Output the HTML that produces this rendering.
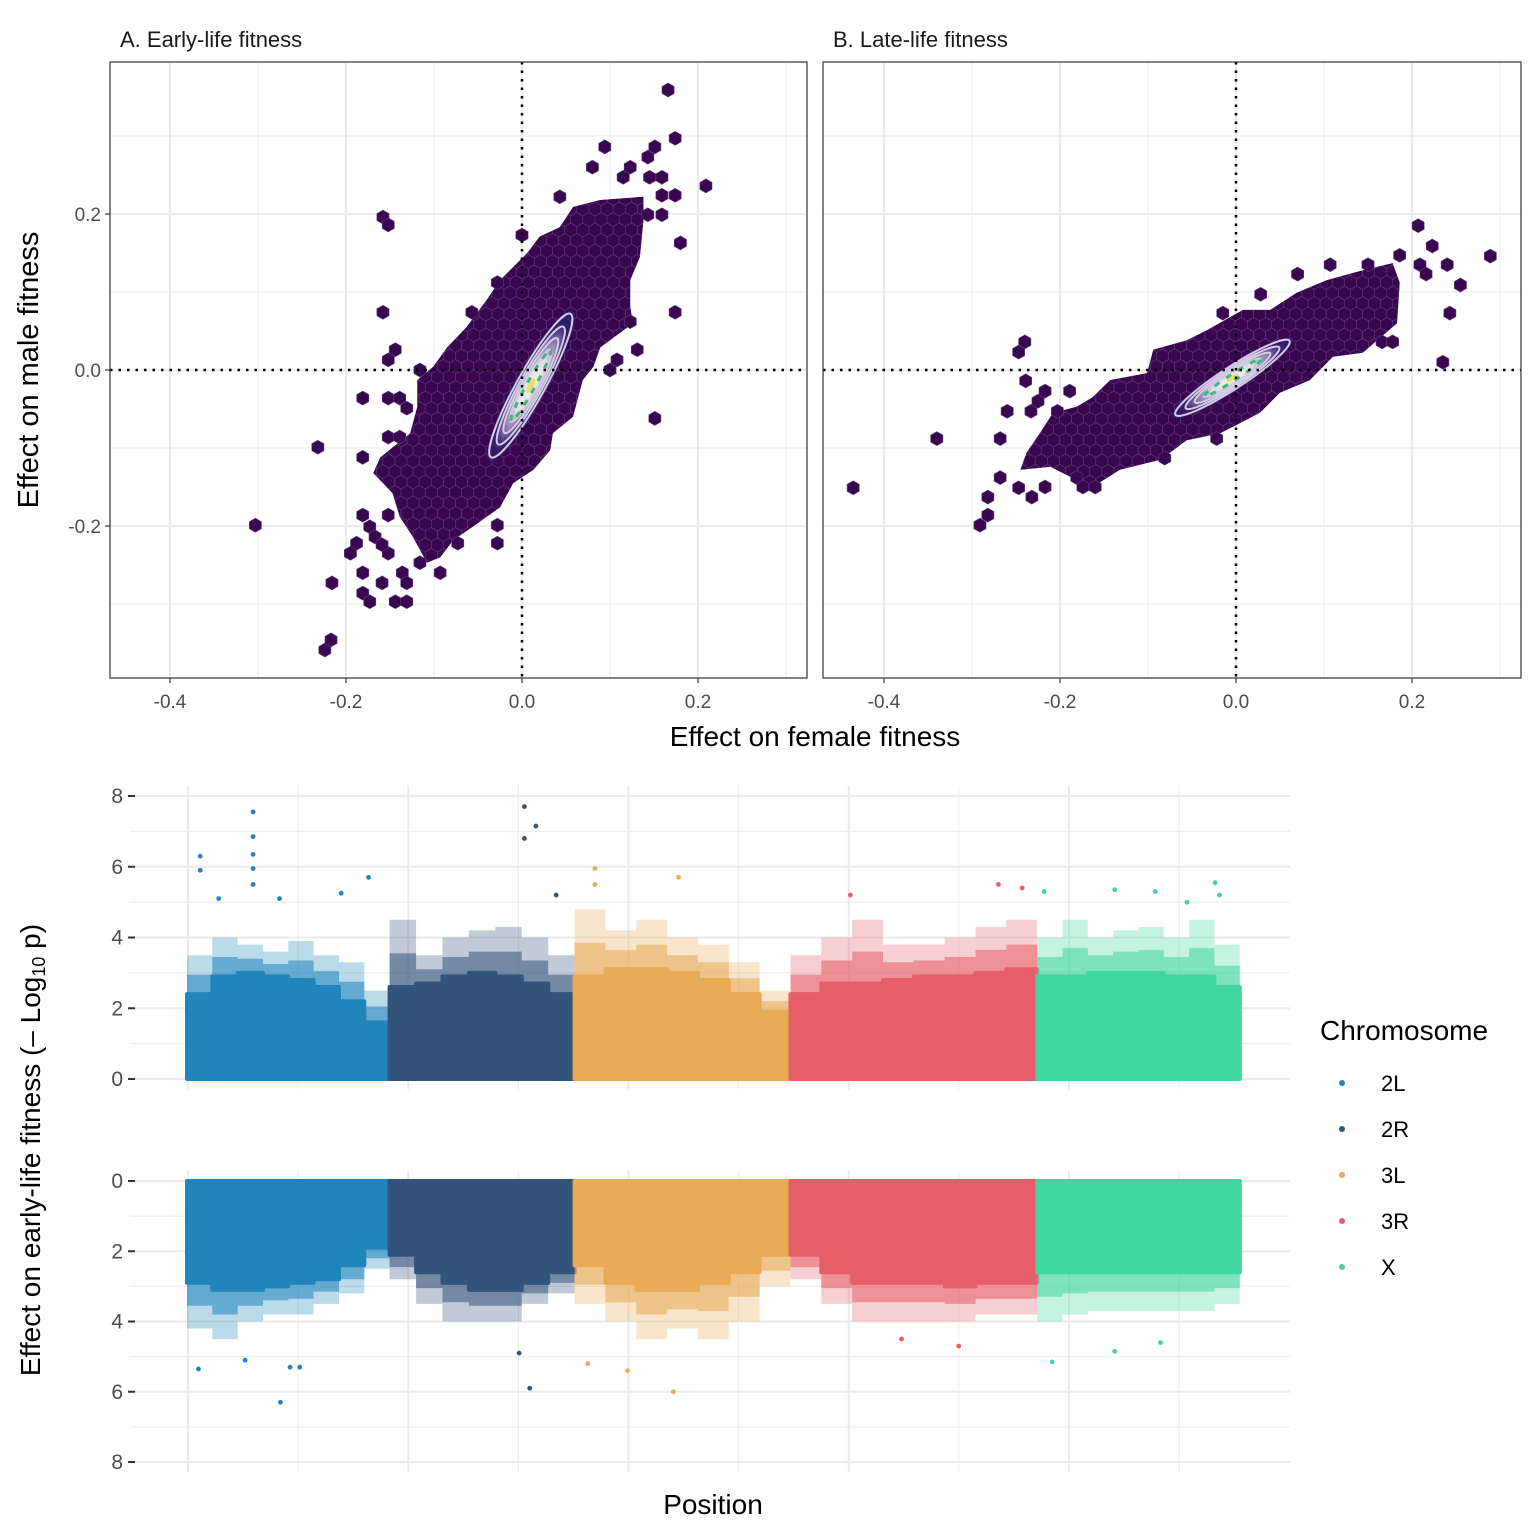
<!DOCTYPE html>
<html><head><meta charset="utf-8"><style>
html,body{margin:0;padding:0;background:#fff;}
svg{display:block;font-family:"Liberation Sans",sans-serif;}
</style></head><body>
<svg id="chart" width="1536" height="1536" viewBox="0 0 1536 1536" xmlns="http://www.w3.org/2000/svg">
<defs>
<radialGradient id="glow" cx="50%" cy="50%" r="50%">
<stop offset="0%" stop-color="#f4f8e0" stop-opacity="1"/>
<stop offset="40%" stop-color="#ffffff" stop-opacity="0.85"/>
<stop offset="75%" stop-color="#b8b0d8" stop-opacity="0.5"/>
<stop offset="100%" stop-color="#3a3a88" stop-opacity="0"/>
</radialGradient>
</defs>
<g id="root"></g>
</svg>
<script>
// ---------- Data: hexbin panels ----------
const xTicks = [-0.4, -0.2, 0.0, 0.2];
const yTicks = [-0.2, 0.0, 0.2];
const envA_x = [.058,.089,.138,.138,.134,.123,.123,.126,.089,.081,.069,.058,.035,.032,.013,-.010,-.025,-.056,-.078,-.093,-.108,-.124,-.139,-.147,-.169,-.161,-.127,-.119,-.119,-.101,-.085,-.063,-.040,-.025,.006,.020,.043];
const envA_y = [.209,.218,.222,.192,.145,.115,.081,.060,.029,.004,-.013,-.060,-.081,-.103,-.128,-.145,-.176,-.201,-.218,-.240,-.247,-.214,-.188,-.158,-.132,-.112,-.081,-.047,-.013,.004,.029,.055,.090,.115,.150,.171,.183];
const outA_x = [-.158,-.152,-.158,-.144,-.152,-.181,-.152,-.139,-.131,-.232,-.181,-.152,-.139,-.181,-.173,-.167,-.188,-.195,-.152,-.159,-.152,-.116,-.093,-.216,-.181,-.159,-.136,-.131,-.181,-.173,-.144,-.131,-.073,-.028,-.028,0,.043,.080,.094,.151,.143,.123,.115,.145,.159,.159,.174,.159,.143,.180,.174,.131,.108,.100,.151,.123,-.028,-.057,-.116,.166,.174,.209,-.303,-.224,-.217];
const outA_y = [.196,.186,.074,.026,.013,-.036,-.036,-.036,-.049,-.099,-.112,-.086,-.086,-.186,-.201,-.214,-.222,-.235,-.235,-.224,-.186,-.247,-.260,-.273,-.260,-.273,-.260,-.273,-.286,-.297,-.297,-.297,-.222,-.199,-.222,.173,.222,.260,.286,.286,.273,.260,.247,.247,.247,.224,.224,.199,.199,.163,.074,.026,.013,0,-.062,.062,.112,.074,0,.359,.297,.236,-.199,-.359,-.346];
const envB_x = [.069,.103,.138,.178,.186,.183,.144,.110,.084,.050,.027,-.018,-.056,-.086,-.132,-.163,-.181,-.211,-.245,-.238,-.223,-.208,-.181,-.163,-.143,-.101,-.094,-.056,-.033,.008,.039];
const envB_y = [.099,.115,.126,.137,.112,.060,.022,.017,-.013,-.029,-.055,-.081,-.090,-.115,-.128,-.150,-.141,-.124,-.128,-.106,-.081,-.055,-.047,-.035,-.013,-.004,.026,.038,.051,.077,.077];
const outB_x = [-.240,-.247,-.239,-.217,-.225,-.189,-.260,-.233,-.203,-.268,-.268,-.282,-.282,-.247,-.232,-.217,-.181,-.174,-.160,-.081,-.022,-.015,.028,.070,.107,.150,.186,.166,.178,.209,.216,.223,.207,.240,.255,.289,.243,.235,-.340,-.435,-.291];
const outB_y = [.036,.023,-.014,-.027,-.040,-.027,-.053,-.053,-.053,-.088,-.138,-.163,-.186,-.151,-.163,-.150,-.138,-.150,-.150,-.113,-.088,.073,.097,.123,.135,.135,.147,.036,.036,.135,.123,.159,.185,.135,.109,.146,.073,.010,-.088,-.151,-.199];
const contA = [0.010, -0.020];
const contB = [-0.004, -0.010];

// ---------- Data: Manhattan ----------
const chroms = ["2L","2R","3L","3R","X"];
const chromLen = [23, 21, 24.5, 28, 23];
const chromColor = ["#1f85bb","#33547a","#e8aa55","#e65e68","#40d6a0"];
const mTicks = [0,2,4,6,8];
const topDense = [[2.4,2.9,3.0,2.9,2.8,2.6,2.2,1.6],[2.6,2.7,2.9,3.0,2.9,2.7,2.4],[2.9,3.1,3.1,3.0,2.8,2.4,1.9],[2.4,2.7,2.7,2.8,2.9,2.9,3.0,3.1],[2.9,2.9,3.0,3.0,3.0,2.9,2.9,2.6]];
const topSparse = [[3.5,4,3.8,3.6,3.9,3.5,3.3,2.5],[4.5,3.5,4,4.2,4.3,4,3.5],[4.8,4.2,4.5,4,3.8,3.3,2.5],[3.5,4,4.5,3.8,3.8,4,4.3,4.5],[4,4.5,4,4.2,4.3,4,4.5,3.8]];
const botDense = [[2.9,3.1,3.1,3.0,2.9,2.8,2.4,1.9],[2.1,2.6,2.9,3.1,3.1,2.9,2.6],[2.4,2.9,3.1,3.1,2.9,2.6,2.1],[2.1,2.6,2.9,2.9,2.9,3.0,2.9,2.9],[2.6,2.6,2.6,2.6,2.6,2.6,2.6,2.6]];
const botSparse = [[4.2,4.5,4,3.8,3.8,3.5,3.2,2.5],[2.8,3.5,4,4,4,3.5,3.2],[3.5,4,4.5,4.2,4.5,4,3],[2.8,3.5,4,4,4,4,3.8,3.8],[4,3.8,3.7,3.7,3.7,3.7,3.7,3.5]];
const topOutChr = [0,0,0,0,0,0,0,0,0,0,0,1,1,1,1,2,2,2,3,3,3,4,4,4,4,4,4];
const topOutPos = [7.5,7.5,7.5,7.5,7.5,1.5,1.5,3.6,10.5,20.6,17.5,15.3,15.3,16.6,18.9,2.3,11.8,2.3,23.6,26.3,6.8,20.2,20.7,8.8,13.4,0.8,17];
const topOutVal = [7.55,6.85,6.35,5.95,5.5,6.3,5.9,5.1,5.1,5.7,5.25,7.7,6.8,7.15,5.2,5.95,5.7,5.5,5.5,5.4,5.2,5.55,5.2,5.35,5.3,5.3,5.0];
const botOutChr = [0,0,0,0,0,1,1,2,2,2,3,3,4,4,4];
const botOutPos = [1.3,10.6,11.7,12.8,6.6,15.9,14.7,6,11.2,1.5,19.1,12.6,1.7,8.8,14];
const botOutVal = [5.35,6.3,5.3,5.3,5.1,5.9,4.9,5.4,6.0,5.2,4.7,4.5,5.15,4.85,4.6];

// ---------- helpers ----------
const NS = "http://www.w3.org/2000/svg";
const root = document.getElementById("root");
function mk(tag, attrs, parent, text){
  const e = document.createElementNS(NS, tag);
  for (const k in attrs) e.setAttribute(k, attrs[k]);
  if (text !== undefined) e.textContent = text;
  (parent || root).appendChild(e);
  return e;
}
function hexPts(cx, cy, r){
  let p = [];
  for (let i = 0; i < 6; i++){ const a = Math.PI/180*(60*i+30); p.push((cx+r*Math.cos(a)).toFixed(1)+","+(cy+r*Math.sin(a)).toFixed(1)); }
  return p.join(" ");
}

// ---------- hexbin panels ----------
function hexPanel(id, left, right, zeroX, title, envX, envY, outX, outY, cont, contLen, contW, contAng, showY){
  const top = 62, bottom = 678, zeroY = 370;
  const sx = v => zeroX + v*880;
  const sy = v => zeroY - v*780;
  const g = mk("g", {}, root);
  
  
  for (let v = -0.5; v <= 0.45; v += 0.1){
    const x = sx(v); if (x < left || x > right) continue;
    const major = Math.abs(Math.round(v*10) % 2) === 0;
    const l = mk("line", {x1:x, x2:x, y1:top, y2:bottom, stroke:"#ebebeb", "stroke-width": major?2:1}, g);
    
    
  }
  for (let v = -0.4; v <= 0.45; v += 0.1){
    const y = sy(v); if (y < top || y > bottom) continue;
    const major = Math.abs(Math.round(v*10) % 2) === 0;
    const l = mk("line", {x1:left, x2:right, y1:y, y2:y, stroke:"#ebebeb", "stroke-width": major?2:1}, g);
    
    
  }
  const envPts = envX.map((v,i) => sx(v).toFixed(1)+","+sy(envY[i]).toFixed(1)).join(" ");
  const ecId = "env-" + id;
  const ec = mk("clipPath", {id: ecId}, g);
  mk("polygon", {points: envPts}, ec);
  const hg = mk("g", {"clip-path": "url(#"+ecId+")"}, g);
  
  
  mk("polygon", {points: envPts, fill:"#3a0650"}, hg);
  const r = 7, dx = r*Math.sqrt(3), dy = r*1.5;
  let row = 0;
  for (let y = top; y <= bottom; y += dy, row++){
    for (let x = left + (row%2 ? dx/2 : 0); x <= right; x += dx){
      mk("polygon", {points: hexPts(x, y, r), fill:"#3a0650", stroke:"#5e3f80", "stroke-width":0.6}, hg);
    }
  }
  outX.forEach((v,i) => {
    const h = mk("polygon", {points: hexPts(sx(v), sy(outY[i]), r), fill:"#3a0650", stroke:"#5e3f80", "stroke-width":0.6}, g);
    
    
  });
  const cg = mk("g", {transform: "translate("+sx(cont[0])+","+sy(cont[1])+") rotate("+contAng+")"}, g);
  
  
  mk("ellipse", {cx:0, cy:0, rx:contLen*1.05, ry:contW*1.15, fill:"#2c2a78", "fill-opacity":0.55}, cg);
  mk("ellipse", {cx:0, cy:0, rx:contLen*0.9, ry:contW*1.0, fill:"url(#glow)"}, cg);
  [1, 0.82, 0.66, 0.5].forEach((s) => {
    mk("ellipse", {cx:0, cy:0, rx:contLen*s, ry:contW*s, fill:"none", stroke:"#d4cce4", "stroke-width":2}, cg);
  });
  mk("ellipse", {cx:0, cy:0, rx:contLen*0.5, ry:contW*0.3, fill:"none", stroke:"#3cb878", "stroke-width":3, "stroke-dasharray":"6 8"}, cg);
  mk("ellipse", {cx:0, cy:0, rx:contLen*0.1, ry:contW*0.18, fill:"#e8e060"}, cg);
  const zx = mk("line", {x1:sx(0), x2:sx(0), y1:top, y2:bottom, stroke:"#000", "stroke-width":2.5, "stroke-dasharray":"2.5 6"}, g);
  
  
  const zy = mk("line", {x1:left, x2:right, y1:sy(0), y2:sy(0), stroke:"#000", "stroke-width":2.5, "stroke-dasharray":"2.5 6"}, g);
  
  
  const b = mk("rect", {x:left, y:top, width:right-left, height:bottom-top, fill:"none", stroke:"#333", "stroke-width":1.2}, g);
  
  
  xTicks.forEach(v => {
    const x = sx(v);
    mk("line", {x1:x, x2:x, y1:bottom, y2:bottom+5, stroke:"#333", "stroke-width":1.2}, g);
    const t = mk("text", {x:x, y:bottom+30, "text-anchor":"middle", "font-size":19, fill:"#4d4d4d"}, g, v.toFixed(1));
    
    
  });
  if (showY){
    yTicks.forEach(v => {
      const y = sy(v);
      mk("line", {x1:left-5, x2:left, y1:y, y2:y, stroke:"#333", "stroke-width":1.2}, g);
      const t = mk("text", {x:left-9, y:y+7, "text-anchor":"end", "font-size":19, fill:"#4d4d4d"}, g, v.toFixed(1));
      
      
    });
  }
  const tt = mk("text", {x:left+10, y:47, "font-size":22, fill:"#1a1a1a"}, g, title);
  
  
}
hexPanel("panel-a-early-life", 110, 807, 522, "A. Early-life fitness", envA_x, envA_y, outA_x, outA_y, contA, 82, 14, -61, true);
hexPanel("panel-b-late-life", 823, 1521, 1236, "B. Late-life fitness", envB_x, envB_y, outB_x, outB_y, contB, 68, 11, -33, false);

let t1 = mk("text", {x:815, y:746, "text-anchor":"middle", "font-size":28, fill:"#000"}, root, "Effect on female fitness");


let t2 = mk("text", {x:0, y:0, transform:"translate(38,370) rotate(-90)", "text-anchor":"middle", "font-size":29, fill:"#000"}, root, "Effect on male fitness");



// ---------- Manhattan ----------
const mx0 = 187, mpx = 8.81;
const chromStart = [];
{ let acc = 0; chromLen.forEach(l => { chromStart.push(acc); acc += l; }); }
const px = (c, p) => mx0 + (chromStart[c] + p) * mpx;

function manhattan(id, zeroY, unit, dir, dense, sparse, oc, op, ov){
  const g = mk("g", {}, root);
  
  
  const sy = v => zeroY - dir * v * unit;
  const yTop = Math.min(sy(8.3), sy(-0.3)), yBot = Math.max(sy(8.3), sy(-0.3));
  for (let v = 0; v <= 8; v++){
    const l = mk("line", {x1:130, x2:1290, y1:sy(v), y2:sy(v), stroke:"#ebebeb", "stroke-width": v%2===0?2:1}, g);
    
    
  }
  for (let k = 0; k <= 9; k++){
    const x = mx0 + 1 + k*12.5*mpx;
    const l = mk("line", {x1:x, x2:x, y1:yTop, y2:yBot, stroke:"#ebebeb", "stroke-width": k%2===0?2:1}, g);
    
    
  }
  chroms.forEach((c, ci) => {
    const n = dense[ci].length;
    const step = chromLen[ci] / n;
    function env(arr, scale){
      let pts = [px(ci,0).toFixed(1)+","+sy(0)];
      arr.forEach((v,i) => {
        const vv = scale(v, i);
        pts.push(px(ci, i*step).toFixed(1)+","+sy(vv).toFixed(1));
        pts.push(px(ci, (i+1)*step).toFixed(1)+","+sy(vv).toFixed(1));
      });
      pts.push(px(ci,chromLen[ci]).toFixed(1)+","+sy(0));
      return pts.join(" ");
    }
    const sp = mk("polygon", {points: env(sparse[ci], v => v), fill: chromColor[ci], "fill-opacity":0.3}, g);
    
    
    const sp2 = mk("polygon", {points: env(sparse[ci], (v,i) => (v + dense[ci][i]) / 2), fill: chromColor[ci], "fill-opacity":0.55}, g);
    
    
    const dn = mk("polygon", {points: env(dense[ci], v => v), fill: chromColor[ci], "stroke": chromColor[ci], "stroke-width":4, "stroke-linejoin":"round"}, g);
    
    
  });
  oc.forEach((c, i) => {
    const d = mk("circle", {cx: px(c, op[i]), cy: sy(ov[i]), r: 2.4, fill: chromColor[c]}, g);
    
    
  });
  mTicks.forEach(v => {
    mk("line", {x1:128, x2:135, y1:sy(v), y2:sy(v), stroke:"#333", "stroke-width":2}, g);
    const t = mk("text", {x:123, y:sy(v)+7, "text-anchor":"end", "font-size":21, fill:"#4d4d4d"}, g, String(v));
    
    
  });
}
manhattan("manhattan-female", 1079, 35.375, 1, topDense, topSparse, topOutChr, topOutPos, topOutVal);
manhattan("manhattan-male", 1181, 35.125, -1, botDense, botSparse, botOutChr, botOutPos, botOutVal);

let t3 = mk("text", {x:713, y:1514, "text-anchor":"middle", "font-size":28, fill:"#000"}, root, "Position");


let t4 = mk("text", {x:0, y:0, transform:"translate(40,1150) rotate(-90)", "text-anchor":"middle", "font-size":28, fill:"#000"}, root);


t4.appendChild(document.createTextNode("Effect on early-life fitness (\u2013 Log"));
const sub = mk("tspan", {"font-size":18, dy:5}, t4, "10");
const rest = mk("tspan", {dy:-5}, t4, " p)");

const lg = mk("g", {}, root);


let lt = mk("text", {x:1320, y:1040, "font-size":28, fill:"#000"}, lg, "Chromosome");


chroms.forEach((c, i) => {
  const y = 1083 + i*46;
  const e = mk("g", {}, lg);
  
  
  mk("circle", {cx:1342, cy:y, r:3, fill: chromColor[i]}, e);
  mk("text", {x:1381, y:y+8, "font-size":22, fill:"#000"}, e, c);
});
</script>
</body></html>
